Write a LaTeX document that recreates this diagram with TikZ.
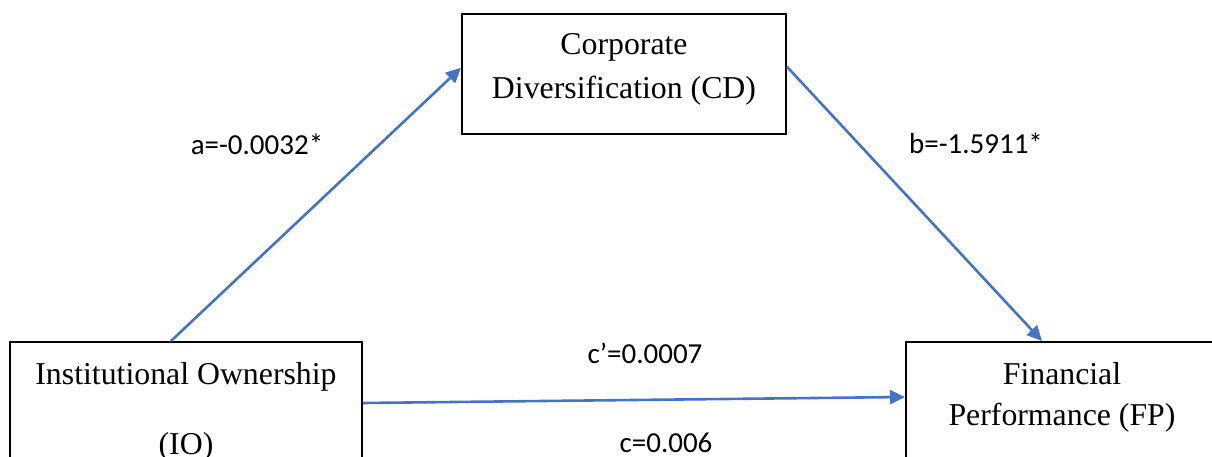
\documentclass[tikz,border=0pt]{standalone}
\usepackage{fontspec}
\setmainfont{Liberation Serif}
\newfontfamily\calfont{Carlito}
\usepackage{tikz}
\usetikzlibrary{arrows.meta,calc}
\definecolor{cPath}{HTML}{4472C4}
\tikzset{
  var/.style    = {draw=black, line width=1pt, align=center, inner xsep=4pt,
                   inner ysep=10pt, font=\fontsize{15.9}{20.5}\selectfont},
  cutvar/.style = {var, anchor=north, text depth=60pt},
  effect/.style = {draw=cPath, line width=1.3pt,
                   -{Triangle[length=7.5pt, width=7pt]}},
  coef/.style   = {font=\calfont\fontsize{14.5}{17}\selectfont, inner sep=0pt},
}

\begin{document}
\begin{tikzpicture}[x=0.5pt, y=0.5pt]
  \useasboundingbox (0,0) rectangle (1212,456);
  \clip (0,0) rectangle (1212,456);
  % variables
  \node[var, minimum width=162pt, minimum height=60pt, text depth=8pt,
        font=\fontsize{15.9}{21.7}\selectfont] (cd) at (624,382)
    {Corporate\\Diversification (CD)};
  \node[cutvar, minimum width=176pt, font=\fontsize{15.9}{35}\selectfont]
    (io) at (186,115) {Institutional Ownership\\(IO)};
  \node[cutvar, minimum width=156pt] (fp) at (1062,115)
    {Financial\\Performance (FP)};
  % paths
  \draw[effect] ($(io.north west)+(162,0)$) -- ($(cd.north west)+(0,-55)$);
  \draw[effect] ($(cd.north east)+(0,-54)$) -- ($(fp.north west)+(137,0)$);
  \draw[effect] ($(io.north east)+(0,-62)$) -- ($(fp.north west)+(0,-56)$);
  % coefficients
  \node[coef] (ca)  at (257,312) {a=-0.0032*};
  \node[coef] (cb)  at (976,313) {b=-1.5911*};
  \node[coef] (ccp) at (645,103) {c’=0.0007};
  \node[coef] (cc)  at (666,13)  {c=0.006};
\end{tikzpicture}
\end{document}
